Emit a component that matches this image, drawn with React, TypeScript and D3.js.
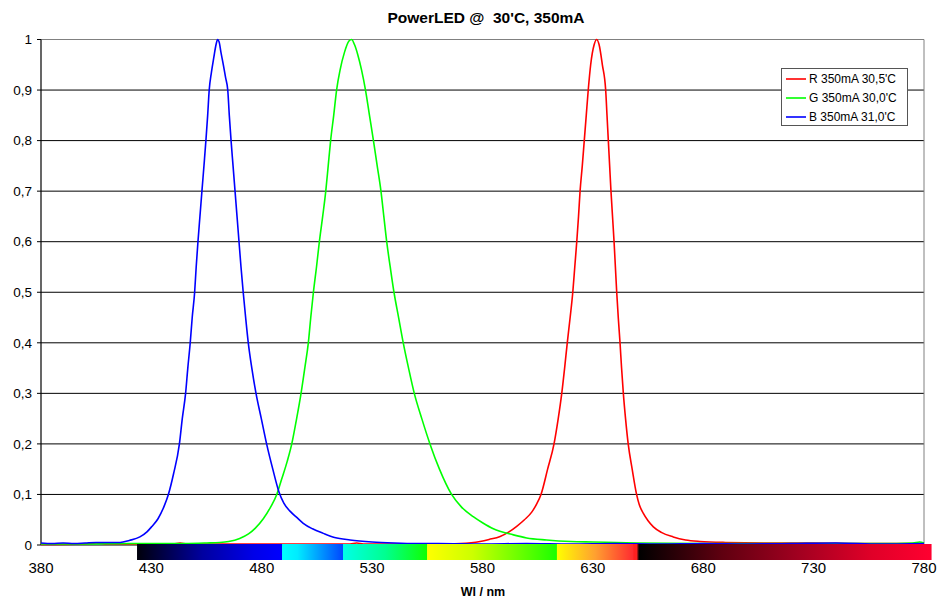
import React from "react";
import * as d3 from "d3";

const chartTitle = "PowerLED @  30'C, 350mA";
const xAxisTitle = "Wl / nm";
const xTicks = [380, 430, 480, 530, 580, 630, 680, 730, 780];
const yTicks = [0, 0.1, 0.2, 0.3, 0.4, 0.5, 0.6, 0.7, 0.8, 0.9, 1];
const yTickLabels = ["0", "0,1", "0,2", "0,3", "0,4", "0,5", "0,6", "0,7", "0,8", "0,9", "1"];

const seriesNames = ["R 350mA 30,5'C", "G 350mA 30,0'C", "B 350mA 31,0'C"];
const seriesColors = ["#ff0000", "#00ff00", "#0000ff"];

const redSpectrum: [number, number][] = [
  [380, 0.001], [400, 0.002], [405, 0.004], [410, 0.002], [440, 0.002], [443, 0.004], [446, 0.002],
  [480, 0.002], [520, 0.002], [523, 0.004], [526, 0.002], [545, 0.002], [560, 0.002], [570, 0.003],
  [578.9, 0.007], [583, 0.011], [588, 0.017], [592, 0.026], [595.5, 0.037], [599, 0.05], [602.3, 0.065],
  [604.5, 0.081], [606.5, 0.1], [609.5, 0.15], [612.4, 0.2], [614.3, 0.25], [615.9, 0.3], [617.2, 0.35],
  [618.4, 0.4], [619.7, 0.45], [620.9, 0.5], [621.8, 0.55], [622.7, 0.6], [623.5, 0.65], [624.2, 0.7],
  [625.2, 0.75], [626.1, 0.8], [627, 0.85], [627.9, 0.9], [629, 0.95], [630.6, 0.99], [631.7, 1.0],
  [632.8, 0.99], [634.3, 0.95], [635.8, 0.9], [636.4, 0.85], [637, 0.8], [637.6, 0.75], [638.2, 0.7],
  [638.9, 0.65], [639.6, 0.6], [640.2, 0.55], [640.8, 0.5], [641.5, 0.45], [642.3, 0.4], [643, 0.35],
  [643.8, 0.3], [644.8, 0.25], [646, 0.2], [647.8, 0.15], [649.8, 0.1], [651, 0.08], [652.8, 0.063],
  [655, 0.048], [657.4, 0.036], [661, 0.025], [666.4, 0.016], [672, 0.01], [678.5, 0.007], [690, 0.005],
  [710, 0.004], [730, 0.004], [750, 0.003], [780, 0.003],
];

const greenSpectrum: [number, number][] = [
  [380, 0.002], [400, 0.002], [420, 0.003], [431, 0.003], [445, 0.003], [455, 0.004], [461, 0.005],
  [465, 0.007], [470, 0.013], [474, 0.022], [477, 0.033], [480.7, 0.052], [484, 0.075], [486.8, 0.1],
  [489, 0.13], [491.5, 0.165], [493.6, 0.2], [495.8, 0.25], [497.8, 0.3], [499.5, 0.35], [501.1, 0.4],
  [502.2, 0.45], [503.4, 0.5], [504.8, 0.55], [506.1, 0.6], [507.6, 0.65], [509, 0.7], [510.1, 0.75],
  [511.2, 0.8], [512.6, 0.85], [513.9, 0.9], [515.5, 0.94], [517.5, 0.975], [519.5, 0.997], [520.7, 1.0],
  [522, 0.99], [523.5, 0.97], [525.2, 0.94], [527, 0.9], [528.8, 0.85], [530.6, 0.8], [532.3, 0.75],
  [534, 0.7], [535.3, 0.65], [536.6, 0.6], [538.2, 0.55], [539.9, 0.5], [542, 0.45], [544.1, 0.4],
  [546.5, 0.35], [549.1, 0.3], [552.5, 0.25], [556.2, 0.2], [560.5, 0.15], [566, 0.1], [570.5, 0.075],
  [575.8, 0.056], [580, 0.044], [584.9, 0.032], [594, 0.02], [600, 0.014], [609, 0.01], [620, 0.007],
  [630, 0.006], [650, 0.004], [680, 0.003], [700, 0.003], [720, 0.003], [740, 0.003], [760, 0.003],
  [775, 0.004], [778, 0.006], [780, 0.004],
];

const blueSpectrum: [number, number][] = [
  [380, 0.004], [385, 0.003], [390, 0.004], [395, 0.003], [400, 0.004], [405, 0.005], [410, 0.005],
  [415.8, 0.005], [420, 0.009], [424.8, 0.016], [428, 0.026], [430.1, 0.036], [433, 0.052], [435.7, 0.076],
  [437.7, 0.1], [440, 0.14], [442.7, 0.2], [444, 0.25], [445.5, 0.3], [446.5, 0.35], [447.6, 0.4],
  [448.5, 0.45], [449.6, 0.5], [450.3, 0.55], [451.1, 0.6], [452, 0.65], [452.9, 0.7], [454, 0.76],
  [454.7, 0.8], [455.5, 0.85], [456.2, 0.9], [457.2, 0.935], [458.3, 0.965], [459.3, 0.99], [460, 1.0],
  [460.7, 0.995], [461.5, 0.975], [462.6, 0.95], [463.6, 0.925], [464.6, 0.9], [465.3, 0.85], [466.1, 0.8],
  [467, 0.75], [467.9, 0.7], [468.8, 0.65], [469.7, 0.6], [470.6, 0.55], [471.6, 0.5], [472.7, 0.45],
  [473.9, 0.4], [475.5, 0.35], [477.4, 0.3], [479.8, 0.25], [482.2, 0.2], [485, 0.15], [487.8, 0.105],
  [490, 0.083], [492.8, 0.067], [496, 0.054], [498.8, 0.043], [503, 0.032], [507.9, 0.023], [513, 0.015],
  [520, 0.01], [530, 0.006], [540, 0.004], [550, 0.003], [560, 0.003], [580, 0.002], [600, 0.003],
  [620, 0.002], [640, 0.003], [660, 0.002], [680, 0.003], [700, 0.002], [720, 0.003], [740, 0.004],
  [760, 0.002], [780, 0.003],
];

const spectra = [redSpectrum, greenSpectrum, blueSpectrum];

// colour bar bands: [start nm, end nm, gradient stops]
const colorBands: { from: number; to: number; stops: [number, string][] }[] = [
  { from: 423.5, to: 489.2, stops: [[0, "#00000a"], [0.45, "#0000a0"], [0.8, "#0000e8"], [1, "#0000ff"]] },
  { from: 489.2, to: 516.8, stops: [[0, "#00ffff"], [0.25, "#00ecff"], [1, "#0044ff"]] },
  { from: 516.8, to: 554.9, stops: [[0, "#00ffe8"], [0.5, "#00ff90"], [1, "#10ff00"]] },
  { from: 554.9, to: 613.7, stops: [[0, "#ffff00"], [0.35, "#ccff00"], [1, "#1aff00"]] },
  { from: 613.7, to: 648.2, stops: [[0, "#ffff00"], [0.5, "#ffa030"], [1, "#ff2a30"]] },
  { from: 648.2, to: 783.2, stops: [[0, "#ff2020"], [0.012, "#ff2020"], [0.02, "#000000"], [0.3, "#600010"], [0.55, "#a00020"], [0.8, "#e00028"], [1, "#ff0030"]] },
];

const W = 949;
const H = 601;
const plot = { left: 41, right: 924, top: 39.5, bottom: 545 };
const FONT = "'Liberation Sans', Arial, Helvetica, sans-serif";

export default function App() {
  const x = d3.scaleLinear().domain([380, 780]).range([plot.left, plot.right]);
  const y = d3.scaleLinear().domain([0, 1]).range([plot.bottom, plot.top]);
  const line = d3
    .line<[number, number]>()
    .x((d) => x(d[0]))
    .y((d) => y(d[1]))
    .curve(d3.curveMonotoneX);

  const barTop = 544;
  const barH = 16;

  return (
    <svg
      width={W}
      height={H}
      viewBox={`0 0 ${W} ${H}`}
      style={{ position: "absolute", left: 0, top: 0, background: "#fff" }}
      fontFamily={FONT}
    >
      <defs>
        {colorBands.map((b, i) => (
          <linearGradient key={i} id={`band${i}`} x1="0" x2="1" y1="0" y2="0">
            {b.stops.map(([o, c], j) => (
              <stop key={j} offset={o} stopColor={c} />
            ))}
          </linearGradient>
        ))}
      </defs>
      <rect x={0} y={0} width={W} height={H} fill="#fff" />

      {/* gridlines */}
      {yTicks.map((t, i) => (
        <line
          key={i}
          x1={plot.left}
          x2={plot.right}
          y1={y(t)}
          y2={y(t)}
          stroke={t === 1 ? "#808080" : "#000"}
          strokeWidth={1}
        />
      ))}
      {/* right border */}
      <line x1={plot.right} x2={plot.right} y1={plot.top} y2={plot.bottom} stroke="#808080" strokeWidth={1} />
      {/* y axis */}
      <line x1={plot.left} x2={plot.left} y1={plot.top} y2={plot.bottom} stroke="#000" strokeWidth={1.2} />
      {yTicks.map((t, i) => (
        <g key={i}>
          <line x1={plot.left - 4} x2={plot.left} y1={y(t)} y2={y(t)} stroke="#000" />
          <text x={32} y={y(t)} dy="0.35em" textAnchor="end" fontSize={13.5} fill="#000">
            {yTickLabels[i]}
          </text>
        </g>
      ))}

      {/* spectra */}
      {spectra.map((s, i) => (
        <path key={i} d={line(s) || ""} fill="none" stroke={seriesColors[i]} strokeWidth={1.6} />
      ))}

      {/* colour bar */}
      {colorBands.map((b, i) => (
        <rect
          key={i}
          x={x(b.from)}
          y={barTop}
          width={x(b.to) - x(b.from) + 0.5}
          height={barH}
          fill={`url(#band${i})`}
        />
      ))}

      {/* x tick labels */}
      {xTicks.map((t, i) => (
        <text key={i} x={x(t)} y={573} textAnchor="middle" fontSize={15} fill="#000">
          {t}
        </text>
      ))}

      {/* titles */}
      <text x={486} y={23} textAnchor="middle" fontSize={15.5} fontWeight="bold" fill="#000" style={{ whiteSpace: "pre" }}>
        {chartTitle}
      </text>
      <text x={483} y={596} textAnchor="middle" fontSize={12.5} fontWeight="bold" fill="#000">
        {xAxisTitle}
      </text>

      {/* legend */}
      <g>
        <rect x={781.5} y={68.5} width={126} height={57} fill="#fff" stroke="#555" strokeWidth={1} />
        {seriesNames.map((n, i) => (
          <g key={i} transform={`translate(0, ${79 + i * 19})`}>
            <line x1={786} x2={806} y1={0} y2={0} stroke={seriesColors[i]} strokeWidth={1.6} />
            <text x={809} y={0} dy="0.35em" fontSize={12} fill="#000">
              {n}
            </text>
          </g>
        ))}
      </g>
    </svg>
  );
}
